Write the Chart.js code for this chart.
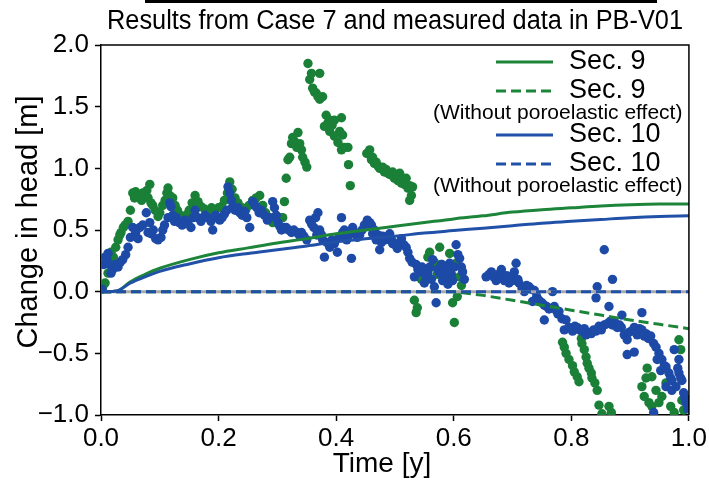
<!DOCTYPE html>
<html>
<head>
<meta charset="utf-8">
<script src="https://cdn.jsdelivr.net/npm/chart.js@4.4.0/dist/chart.umd.min.js"></script>
<style>
  html, body { margin: 0; padding: 0; background: #fff; }
  #wrap { width: 709px; height: 489px; }
</style>
</head>
<body>
<div id="wrap"><canvas id="c" width="709" height="489"></canvas></div>
<script>
// ---- data -------------------------------------------------------------
const chartTitle = 'Results from Case 7 and measured data in PB-V01';
const xTitle = 'Time [y]';
const yTitle = 'Change in head [m]';
const xTicks = [0.0, 0.2, 0.4, 0.6, 0.8, 1.0];
const yTicks = [-1.0, -0.5, 0.0, 0.5, 1.0, 1.5, 2.0];

// simulated curves (Case 7)
const curveTimes = [0, 0.01, 0.02, 0.03, 0.05, 0.075, 0.1, 0.15, 0.2, 0.25, 0.3, 0.35, 0.4,
                    0.45, 0.5, 0.55, 0.6, 0.65, 0.7, 0.75, 0.8, 0.85, 0.9, 0.95, 1.0];
const sec9Model = [0, 0, 0.002, 0.01, 0.08, 0.14, 0.19, 0.26, 0.315, 0.355, 0.395, 0.43, 0.47,
                   0.5, 0.53, 0.56, 0.59, 0.615, 0.645, 0.665, 0.68, 0.695, 0.705, 0.71, 0.71];
const sec9NoPoro = [0, 0, 0, 0, 0, 0, 0, 0, 0, 0, 0, 0, 0,
                    0, 0, 0, 0, -0.03, -0.07, -0.11, -0.15, -0.19, -0.23, -0.265, -0.3];
const sec10Model = [0, 0, 0.002, 0.01, 0.07, 0.12, 0.165, 0.225, 0.275, 0.31, 0.34, 0.37, 0.405,
                    0.43, 0.45, 0.475, 0.495, 0.515, 0.535, 0.555, 0.57, 0.585, 0.6, 0.61, 0.615];
const sec10NoPoro = [0, 0, 0, 0, 0, 0, 0, 0, 0, 0, 0, 0, 0,
                     0, 0, 0, 0, 0, 0, 0, 0, 0, 0, 0, 0];
const zeroRefTimes = [0, 1];
const zeroRefValues = [0, 0];

// measured head change [time, value]
const sec9Observed = [
  [0.003,0.04],[0.007,0.07],[0.012,0.15],[0.017,0.32],[0.021,0.28],[0.025,0.36],[0.029,0.42],[0.032,0.46],
  [0.034,0.48],[0.038,0.52],[0.041,0.54],[0.046,0.57],[0.05,0.66],[0.054,0.8],[0.057,0.76],[0.059,0.81],
  [0.063,0.78],[0.066,0.76],[0.069,0.74],[0.071,0.8],[0.075,0.78],[0.078,0.82],[0.08,0.76],[0.083,0.87],
  [0.085,0.72],[0.088,0.7],[0.092,0.66],[0.097,0.61],[0.1,0.64],[0.105,0.7],[0.109,0.74],[0.112,0.8],
  [0.114,0.84],[0.117,0.78],[0.12,0.74],[0.122,0.76],[0.126,0.7],[0.13,0.66],[0.135,0.62],[0.14,0.6],
  [0.145,0.62],[0.15,0.66],[0.155,0.72],[0.16,0.78],[0.165,0.73],[0.17,0.69],[0.176,0.67],[0.182,0.65],
  [0.188,0.68],[0.194,0.66],[0.2,0.68],[0.205,0.69],[0.21,0.74],[0.215,0.8],[0.219,0.89],[0.223,0.83],
  [0.228,0.76],[0.233,0.72],[0.24,0.68],[0.246,0.66],[0.252,0.7],[0.258,0.74],[0.264,0.76],[0.27,0.78],
  [0.275,0.7],[0.28,0.64],[0.286,0.6],[0.292,0.56],[0.298,0.58],[0.304,0.6],[0.309,0.6],[0.312,0.73],
  [0.315,0.92],[0.318,1.07],[0.321,1.09],[0.324,1.2],[0.326,1.25],[0.329,1.22],[0.333,1.17],[0.335,1.29],
  [0.338,1.2],[0.341,1.15],[0.343,1.09],[0.347,1.05],[0.35,1.01],[0.352,1.85],[0.355,1.72],[0.358,1.77],
  [0.36,1.65],[0.363,1.62],[0.366,1.61],[0.369,1.58],[0.372,1.56],[0.372,1.77],[0.377,1.58],[0.38,1.34],
  [0.383,1.43],[0.386,1.37],[0.389,1.39],[0.389,1.3],[0.393,1.35],[0.397,1.39],[0.397,1.26],[0.403,1.21],
  [0.406,1.3],[0.409,1.41],[0.409,1.15],[0.411,1.27],[0.414,1.17],[0.42,1.17],[0.421,1.03],[0.424,0.86],
  [0.452,1.12],[0.457,1.15],[0.46,1.07],[0.462,1.09],[0.465,1.04],[0.468,1.05],[0.471,1.02],[0.474,1.0],
  [0.479,1.01],[0.482,0.97],[0.485,0.99],[0.488,0.96],[0.491,0.95],[0.496,0.97],[0.499,0.92],[0.502,0.93],
  [0.505,0.9],[0.508,0.96],[0.511,0.88],[0.513,0.91],[0.516,0.87],[0.519,0.92],[0.522,0.84],[0.525,0.86],
  [0.525,0.74],[0.528,0.78],[0.53,0.85],
  [0.533,-0.07],[0.536,-0.17],[0.538,-0.13],[0.545,0.1],[0.55,0.18],[0.556,0.28],[0.559,0.32],[0.563,0.2],
  [0.567,0.24],[0.572,0.14],[0.576,0.36],[0.58,0.22],[0.585,0.12],[0.59,0.18],[0.593,0.31],[0.598,-0.09],
  [0.601,-0.25],[0.604,0.23],[0.606,-0.04],[0.61,0.12],[0.613,0.05],
  [0.785,-0.41],[0.788,-0.45],[0.791,-0.5],[0.796,-0.55],[0.802,-0.6],[0.805,-0.65],[0.81,-0.69],[0.813,-0.73],
  [0.817,-0.38],[0.818,-0.42],[0.822,-0.47],[0.825,-0.53],[0.827,-0.58],[0.83,-0.62],[0.834,-0.66],[0.835,-0.7],
  [0.84,-0.74],[0.844,-0.8],[0.847,-0.92],[0.852,-0.99],[0.864,-0.93],[0.868,-0.98],
  [0.92,-0.77],[0.924,-0.85],[0.927,-0.7],[0.929,-0.62],[0.932,-0.9],[0.937,-0.69],[0.937,-0.93],[0.944,-0.8],
  [0.949,-0.9],[0.954,-0.85],[0.961,-0.74],[0.969,-0.93],[0.975,-0.98],[0.983,-0.39],[0.986,-0.47],[0.988,-0.88],
  [0.991,-0.96]
];
const sec10Observed = [
  [0.002,0.02],[0.005,0.22],[0.007,0.28],[0.01,0.26],[0.012,0.31],[0.014,0.22],[0.017,0.15],[0.02,0.18],
  [0.024,0.22],[0.029,0.2],[0.033,0.24],[0.037,0.26],[0.042,0.3],[0.046,0.36],[0.05,0.44],[0.054,0.52],
  [0.059,0.48],[0.063,0.43],[0.066,0.52],[0.071,0.54],[0.077,0.64],[0.08,0.48],[0.083,0.56],[0.085,0.47],
  [0.089,0.5],[0.093,0.43],[0.097,0.42],[0.102,0.44],[0.105,0.5],[0.108,0.54],[0.114,0.6],[0.117,0.72],
  [0.119,0.69],[0.122,0.62],[0.125,0.57],[0.128,0.6],[0.133,0.56],[0.138,0.54],[0.143,0.58],[0.148,0.55],
  [0.153,0.52],[0.157,0.6],[0.16,0.66],[0.165,0.6],[0.17,0.57],[0.174,0.6],[0.177,0.62],[0.182,0.6],
  [0.187,0.57],[0.19,0.5],[0.195,0.62],[0.198,0.6],[0.202,0.58],[0.206,0.6],[0.21,0.63],[0.214,0.66],
  [0.216,0.85],[0.219,0.8],[0.222,0.74],[0.224,0.69],[0.228,0.66],[0.233,0.68],[0.236,0.64],[0.24,0.62],
  [0.244,0.65],[0.248,0.6],[0.253,0.52],[0.258,0.73],[0.262,0.7],[0.265,0.68],[0.269,0.64],[0.273,0.66],
  [0.278,0.62],[0.283,0.58],[0.287,0.6],[0.292,0.73],[0.295,0.68],[0.298,0.62],[0.301,0.56],[0.304,0.53],
  [0.307,0.5],[0.311,0.52],[0.315,0.52],[0.319,0.5],[0.324,0.48],[0.328,0.5],[0.333,0.48],[0.337,0.46],
  [0.341,0.48],[0.345,0.45],[0.35,0.42],[0.355,0.58],[0.358,0.55],[0.362,0.52],[0.365,0.6],[0.367,0.46],
  [0.369,0.64],[0.372,0.5],[0.375,0.46],[0.377,0.42],[0.38,0.28],[0.384,0.4],[0.389,0.36],[0.393,0.42],
  [0.397,0.39],[0.402,0.32],[0.405,0.44],[0.409,0.6],[0.411,0.48],[0.414,0.5],[0.418,0.42],[0.422,0.46],
  [0.426,0.27],[0.428,0.52],[0.432,0.48],[0.436,0.44],[0.44,0.46],[0.444,0.5],[0.448,0.54],[0.453,0.58],
  [0.457,0.56],[0.46,0.54],[0.462,0.47],[0.465,0.5],[0.468,0.42],[0.471,0.46],[0.474,0.34],[0.477,0.4],
  [0.479,0.45],[0.483,0.42],[0.487,0.44],[0.491,0.47],[0.494,0.42],[0.496,0.39],[0.5,0.38],[0.504,0.35],
  [0.508,0.4],[0.511,0.43],[0.515,0.38],[0.519,0.36],[0.522,0.32],[0.525,0.27],[0.529,0.24],[0.533,0.12],
  [0.536,0.22],[0.539,0.18],[0.542,0.16],[0.546,0.2],[0.55,0.07],[0.553,0.12],[0.556,0.15],[0.559,0.2],
  [0.562,0.1],[0.564,0.26],[0.567,0.04],[0.57,-0.09],[0.573,0.18],[0.576,0.15],[0.579,0.22],[0.581,0.09],
  [0.584,0.12],[0.587,0.18],[0.59,0.06],[0.593,0.23],[0.596,0.14],[0.598,0.09],[0.601,0.2],[0.604,0.38],
  [0.607,0.3],[0.61,0.27],[0.613,0.2],[0.615,0.16],[0.618,0.1],
  [0.655,0.12],[0.66,0.14],[0.664,0.16],[0.668,0.12],[0.672,0.09],[0.676,0.14],[0.681,0.18],[0.684,0.12],
  [0.686,0.09],[0.69,0.13],[0.694,0.07],[0.697,0.12],[0.7,0.09],[0.703,0.16],[0.706,0.23],[0.709,0.1],
  [0.711,0.07],[0.716,0.03],[0.72,0.0],[0.724,0.05],[0.728,0.04],[0.732,0.02],[0.734,-0.08],[0.737,0.01],
  [0.741,-0.04],[0.745,-0.07],[0.75,-0.09],[0.754,-0.11],[0.754,-0.23],[0.758,-0.12],[0.762,-0.14],[0.768,0.0],
  [0.771,-0.12],[0.774,-0.15],[0.777,-0.18],[0.779,-0.16],[0.784,-0.22],[0.788,-0.31],[0.791,-0.23],[0.796,-0.29],
  [0.802,-0.32],[0.806,-0.28],[0.81,-0.29],[0.814,-0.31],[0.818,-0.32],[0.822,-0.3],[0.825,-0.35],[0.83,-0.33],
  [0.834,-0.34],[0.838,-0.31],[0.842,-0.32],[0.842,-0.05],[0.844,0.04],[0.847,-0.28],[0.851,-0.31],[0.856,-0.27],
  [0.856,0.34],[0.861,-0.26],[0.864,-0.12],[0.866,-0.24],[0.87,-0.27],[0.87,0.1],[0.874,-0.25],[0.878,-0.29],
  [0.882,-0.27],[0.885,-0.29],[0.886,-0.19],[0.89,-0.35],[0.895,-0.39],[0.895,-0.51],[0.898,-0.33],[0.902,-0.32],
  [0.907,-0.29],[0.907,-0.49],[0.912,-0.35],[0.916,-0.3],[0.92,-0.31],[0.92,-0.17],[0.924,-0.36],[0.927,-0.34],
  [0.931,-0.38],[0.935,-0.36],[0.94,-0.42],[0.94,-0.98],[0.944,-0.45],[0.946,-0.55],[0.949,-0.5],[0.952,-0.64],
  [0.954,-0.55],[0.958,-0.6],[0.961,-0.61],[0.961,-0.77],[0.966,-0.66],[0.969,-0.7],[0.971,-0.72],[0.971,-0.8],
  [0.975,-0.47],[0.978,-0.77],[0.981,-0.62],[0.983,-0.55],[0.983,-0.66],[0.986,-0.7],[0.988,-0.72],[0.991,-0.82],
  [0.993,-0.86],[0.995,-0.9],[0.998,-0.95]
];

// ---- styling ------------------------------------------------------------
const GREEN = '#1c8539';
const GREEN_PT = '#1b8037';
const BLUE = '#2150a8';
const BLUE_PT = '#1d4aa6';
const GREY = '#a9a9a9';
const FONT = "'Liberation Sans', Arial, Helvetica, sans-serif";
const DASH = [10, 5];

const pairs = arr => arr.map(p => ({ x: p[0], y: p[1] }));
const curve = vals => curveTimes.map((t, i) => ({ x: t, y: vals[i] }));
const fmt = v => (v < 0 ? '\u2212' : '') + Math.abs(v).toFixed(1);

// legend rows (handle + label, or a note line)
const legendRows = [
  { label: 'Sec. 9', colour: GREEN, dashed: false, y: 62 },
  { label: 'Sec. 9', colour: GREEN, dashed: true, y: 91 },
  { note: '(Without poroelastic effect)', y: 113 },
  { label: 'Sec. 10', colour: BLUE, dashed: false, y: 135 },
  { label: 'Sec. 10', colour: BLUE, dashed: true, y: 164 },
  { note: '(Without poroelastic effect)', y: 186 }
];

// spines on the top and right, heading, axis titles and legend
const decorations = {
  id: 'decorations',
  afterDraw(chart) {
    const { ctx, chartArea: a } = chart;
    ctx.save();
    ctx.strokeStyle = '#000';
    ctx.lineWidth = 1.5;
    ctx.beginPath();
    ctx.moveTo(a.left, a.top);
    ctx.lineTo(a.right, a.top);
    ctx.lineTo(a.right, a.bottom);
    ctx.stroke();

    // edge of the panel above
    ctx.fillStyle = '#000';
    ctx.fillRect(145, 0, 512, 3);

    // heading, slightly condensed
    ctx.font = `27px ${FONT}`;
    ctx.textAlign = 'center';
    ctx.textBaseline = 'middle';
    const w = ctx.measureText(chartTitle).width;
    ctx.save();
    ctx.translate(395, 22);
    ctx.scale(576 / w, 1);
    ctx.fillText(chartTitle, 0, 0);
    ctx.restore();

    // axis titles
    ctx.font = `28px ${FONT}`;
    ctx.fillText(xTitle, 382, 464);
    ctx.save();
    ctx.translate(29, 222);
    ctx.rotate(-Math.PI / 2);
    ctx.font = `29px ${FONT}`;
    ctx.fillText(yTitle, 0, 0);
    ctx.restore();

    // legend
    const hx0 = 496, hx1 = 553, tx = 569;
    legendRows.forEach(r => {
      ctx.textAlign = 'left';
      ctx.fillStyle = '#000';
      if (r.note) {
        ctx.font = `21px ${FONT}`;
        ctx.fillText(r.note, 433, r.y);
        return;
      }
      ctx.strokeStyle = r.colour;
      ctx.lineWidth = 3;
      ctx.setLineDash(r.dashed ? DASH : []);
      ctx.beginPath();
      ctx.moveTo(hx0, r.y);
      ctx.lineTo(hx1, r.y);
      ctx.stroke();
      ctx.setLineDash([]);
      ctx.font = `27px ${FONT}`;
      ctx.fillText(r.label, tx, r.y);
    });
    ctx.restore();
  }
};

const tickFont = { family: FONT, size: 26 };

new Chart(document.getElementById('c'), {
  type: 'scatter',
  data: {
    datasets: [
      { label: 'Sec. 10 (Without poroelastic effect)', data: curve(sec10NoPoro), showLine: true,
        borderColor: BLUE, borderWidth: 3, borderDash: DASH, pointRadius: 0, order: 0, clip: 0 },
      { label: 'Sec. 10', data: curve(sec10Model), showLine: true, cubicInterpolationMode: 'monotone',
        borderColor: BLUE, borderWidth: 3, pointRadius: 0, order: 1, clip: 0 },
      { label: 'Sec. 9 (Without poroelastic effect)', data: curve(sec9NoPoro), showLine: true,
        borderColor: GREEN, borderWidth: 3, borderDash: DASH, pointRadius: 0, order: 2, clip: 0 },
      { label: 'Sec. 9', data: curve(sec9Model), showLine: true, cubicInterpolationMode: 'monotone',
        borderColor: GREEN, borderWidth: 3, pointRadius: 0, order: 3, clip: 0 },
      { label: 'zero', data: zeroRefTimes.map((t, i) => ({ x: t, y: zeroRefValues[i] })), showLine: true,
        borderColor: GREY, borderWidth: 3, pointRadius: 0, order: 4, clip: 0 },
      { label: 'Sec. 10 measured', data: pairs(sec10Observed), pointRadius: 4.7, pointBorderWidth: 0,
        backgroundColor: BLUE_PT, borderColor: BLUE_PT, order: 5, clip: 0 },
      { label: 'Sec. 9 measured', data: pairs(sec9Observed), pointRadius: 4.7, pointBorderWidth: 0,
        backgroundColor: GREEN_PT, borderColor: GREEN_PT, order: 6, clip: 0 }
    ]
  },
  options: {
    responsive: false,
    animation: false,
    devicePixelRatio: 1,
    layout: { padding: { left: 0, right: 19, top: 45, bottom: 0 } },
    plugins: { legend: { display: false }, title: { display: false }, tooltip: { enabled: false } },
    scales: {
      x: {
        type: 'linear', min: 0, max: 1,
        afterBuildTicks: axis => { axis.ticks = xTicks.map(v => ({ value: v })); },
        afterFit: axis => { axis.height = 74; },
        ticks: { font: tickFont, color: '#000', padding: 2, maxRotation: 0, autoSkip: false, callback: v => fmt(v) },
        grid: { display: true, drawOnChartArea: false, drawTicks: true, tickLength: 6, tickWidth: 1.5, color: '#000' },
        border: { display: true, color: '#000', width: 1.5 }
      },
      y: {
        type: 'linear', min: -1, max: 2,
        afterBuildTicks: axis => { axis.ticks = yTicks.map(v => ({ value: v })); },
        afterFit: axis => { axis.width = 101; },
        ticks: { font: tickFont, color: '#000', padding: 6, autoSkip: false, callback: v => fmt(v) },
        grid: { display: true, drawOnChartArea: false, drawTicks: true, tickLength: 6, tickWidth: 1.5, color: '#000' },
        border: { display: true, color: '#000', width: 1.5 }
      }
    }
  },
  plugins: [decorations]
});
</script>
</body>
</html>
